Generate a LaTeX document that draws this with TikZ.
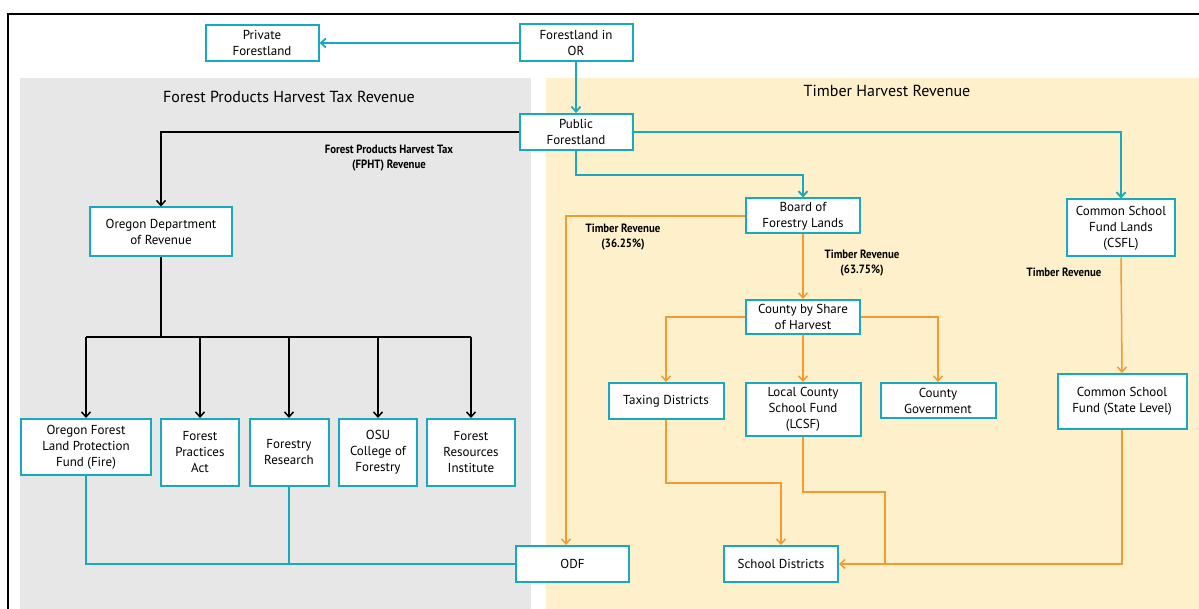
\documentclass[tikz,border=0pt]{standalone}
\usepackage{fontspec}
\setmainfont{PT Sans}
\newfontfamily\labfont[FakeStretch=0.9]{PT Sans}
\usetikzlibrary{arrows.meta}
\definecolor{teal1}{RGB}{23,170,190}
\definecolor{orng}{RGB}{243,154,50}
\definecolor{gpanel}{RGB}{231,231,231}
\definecolor{ypanel}{RGB}{254,240,202}
\tikzset{
  box/.style={draw=teal1, line width=2pt, fill=white, align=center, inner sep=0pt, font=\fontsize{13}{16}\selectfont},
  tl/.style={draw=teal1, line width=1.8pt},
  bl/.style={draw=black, line width=1.5pt},
  ol/.style={draw=orng, line width=1.5pt},
  arr/.style={-{Straight Barb[length=5pt,width=9pt]}},
  lab/.style={font=\labfont\fontsize{12}{15}\selectfont\bfseries, align=center},
  ttl/.style={font=\fontsize{16}{19}\selectfont}
}
\begin{document}
\begin{tikzpicture}[x=1pt,y=-1pt]
\useasboundingbox (0,0) rectangle (1199,609);
\fill[white] (0,0) rectangle (1199,609);
% panels
\fill[gpanel] (20,78) rectangle (531,609);
\fill[ypanel] (546,78) rectangle (1199,609);
% frame
\draw[line width=2pt] (8,609) -- (8,14) -- (1199,14);
% titles
\node[ttl] (t1) at (289,97) {Forest Products Harvest Tax Revenue};
\node[ttl] (t2) at (887,91) {Timber Harvest Revenue};
% nodes
\node[box, minimum width=113pt, minimum height=36pt] (priv) at (262,43) {Private\\Forestland};
\node[box, minimum width=113pt, minimum height=37pt] (forOR) at (576,43) {Forestland in\\OR};
\node[box, minimum width=113pt, minimum height=36pt] (pub) at (576,132) {Public\\Forestland};
\node[box, minimum width=142pt, minimum height=49pt] (odr) at (161,232) {Oregon Department\\of Revenue};
\node[box, minimum width=114pt, minimum height=35pt] (bfl) at (803,216) {Board of\\Forestry Lands};
\node[box, minimum width=108pt, minimum height=57pt] (csfl) at (1121,228) {Common School\\Fund Lands\\(CSFL)};
\node[box, minimum width=114pt, minimum height=34pt] (cty) at (803,317) {County by Share\\of Harvest};
\node[box, minimum width=115pt, minimum height=36pt] (tax) at (666,401) {Taxing Districts};
\node[box, minimum width=115pt, minimum height=53pt] (lcsf) at (803,409.5) {Local County\\School Fund\\(LCSF)};
\node[box, minimum width=115pt, minimum height=35pt] (cgov) at (938,400.5) {County\\Government};
\node[box, minimum width=129pt, minimum height=55pt] (csfs) at (1122,401.5) {Common School\\Fund (State Level)};
\node[box, minimum width=130pt, minimum height=56pt] (fire) at (86,447) {Oregon Forest\\Land Protection\\Fund (Fire)};
\node[box, minimum width=78pt, minimum height=67pt] (fpa) at (200,452.5) {Forest\\Practices\\Act};
\node[box, minimum width=79pt, minimum height=67pt] (fres) at (289,452.5) {Forestry\\Research};
\node[box, minimum width=78pt, minimum height=67pt] (osu) at (378,452.5) {OSU\\College of\\Forestry};
\node[box, minimum width=88pt, minimum height=67pt] (fri) at (471,452.5) {Forest\\Resources\\Institute};
\node[box, minimum width=113pt, minimum height=36pt] (odf) at (572.5,564) {ODF};
\node[box, minimum width=114pt, minimum height=36pt] (sd) at (781,564) {School Districts};
% labels
\node[lab] (l1) at (389,158) {Forest Products Harvest Tax\\(FPHT) Revenue};
\node[lab] (l2) at (623,237) {Timber Revenue\\(36.25\%)};
\node[lab] (l3) at (862,263) {Timber Revenue\\(63.75\%)};
\node[lab] (l4) at (1064,272) {Timber Revenue};
% coordinates
\coordinate (busY) at (0,337);
% teal connectors
\draw[tl,arr] (forOR.west) -- (priv.east);
\draw[tl,arr] (forOR.south) -- (pub.north);
\draw[tl,arr] (pub.south) -- (576,175) -| (bfl.north);
\draw[tl,arr] (pub.east) -| (csfl.north);
\draw[tl] (fire.south) |- (odf.west);
\draw[tl] (fres.south) -- (fres.south |- odf.west);
% black connectors
\draw[bl,arr] (pub.west) -| (odr.north);
\draw[bl] (odr.south) -- (odr.south |- busY);
\draw[bl] (fire.north |- busY) -- (fri.north |- busY);
\foreach \n in {fire,fpa,fres,osu,fri}{
  \draw[bl,arr] (\n.north |- busY) -- (\n.north);
}
% orange connectors
\draw[ol,arr] (bfl.west) -| (odf.north -| 566,0);
\draw[ol,arr] (bfl.south) -- (cty.north);
\draw[ol,arr] (cty.west) -| (tax.north);
\draw[ol,arr] (cty.south) -- (lcsf.north);
\draw[ol,arr] (cty.east) -| (cgov.north);
\draw[ol,arr] (csfl.south) -- (csfs.north);
\draw[ol,arr] (tax.south) -- (666,483) -| (sd.north);
\draw[ol] (lcsf.south) -- (803,492) -- (885,492) -- (885,564);
\draw[ol,arr] (csfs.south) |- (sd.east);
\end{tikzpicture}
\end{document}
